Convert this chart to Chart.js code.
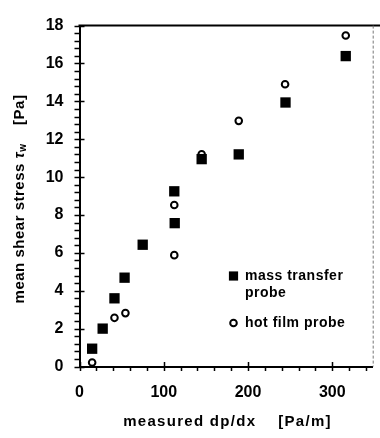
<!DOCTYPE html>
<html>
<head>
<meta charset="utf-8">
<style>
    html, body { margin: 0; padding: 0; background: #fff; }
    #chart { display: block; }
</style>
<script src="https://cdn.jsdelivr.net/npm/chart.js@4.4.0/dist/chart.umd.min.js"></script>
</head>
<body>
<canvas id="chart" width="380" height="438"></canvas>
<script>
// mass transfer probe readings
const massX = [15, 27.5, 41.5, 53.5, 75, 112.5, 113, 145, 189, 244.5, 316];
const massY = [0.94, 2.0, 3.6, 4.69, 6.43, 9.25, 7.57, 10.95, 11.2, 13.94, 16.39];

// hot film probe readings
const filmX = [15, 41.5, 54.5, 112.5, 112.5, 145, 189, 244, 316];
const filmY = [0.21, 2.57, 2.82, 5.88, 8.53, 11.2, 12.97, 14.9, 17.48];

const xTicks = [0, 100, 200, 300];
const yTicks = [0, 2, 4, 6, 8, 10, 12, 14, 16, 18];

const FONT = "'Liberation Sans', Arial, sans-serif";

const toPoints = (xs, ys) => xs.map((x, i) => ({ x, y: ys[i] }));

// minor/major tick marks, top and right frame lines
const frameTicks = {
    id: "frameTicks",
    afterDraw(chart) {
        const { ctx, chartArea: area, scales } = chart;
        const xs = scales.x;
        const ys = scales.y;
        ctx.save();
        ctx.strokeStyle = "#000";
        ctx.lineWidth = 1.5;
        ctx.beginPath();
        for (let v = 0; v <= xs.max; v += 20) {
            const px = Math.round(xs.getPixelForValue(v)) + 0.5;
            const major = v % 100 === 0;
            ctx.moveTo(px, major ? area.bottom - 4.5 : area.bottom);
            ctx.lineTo(px, area.bottom + 4.5);
        }
        for (let i = 0; i <= 45; i++) {
            const py = Math.round(ys.getPixelForValue(i * 0.4)) + 0.5;
            const major = i % 5 === 0;
            ctx.moveTo(area.left - 5, py);
            ctx.lineTo(major ? area.left + 5 : area.left, py);
        }
        ctx.stroke();

        ctx.lineWidth = 2;
        ctx.beginPath();
        ctx.moveTo(area.left - 1, area.top);
        ctx.lineTo(380, area.top);
        ctx.stroke();

        ctx.strokeStyle = "#777";
        ctx.lineWidth = 1;
        ctx.setLineDash([3, 2]);
        ctx.beginPath();
        ctx.moveTo(area.right + 0.5, area.top);
        ctx.lineTo(area.right + 0.5, area.bottom);
        ctx.stroke();
        ctx.restore();
    },
};

// axis titles (with the tau subscript) and the in-plot legend
const labels = {
    id: "labels",
    afterDraw(chart) {
        const { ctx } = chart;
        ctx.save();
        ctx.fillStyle = "#000";
        ctx.textBaseline = "middle";
        ctx.textAlign = "left";

        // x title
        ctx.font = `bold 15px ${FONT}`;
        ctx.letterSpacing = "1.3px";
        const xTitle = "measured dp/dx    [Pa/m]";
        const xw = ctx.measureText(xTitle).width;
        ctx.fillText(xTitle, 227.5 - xw / 2, 422);

        // y title, rotated, tau with subscript w
        ctx.translate(20, 199);
        ctx.rotate(-Math.PI / 2);
        ctx.letterSpacing = "0.5px";
        const parts = [
            { text: "mean shear stress ", font: `bold 15px ${FONT}`, dy: 0 },
            { text: "\u03C4", font: `italic bold 15px ${FONT}`, dy: 0 },
            { text: "w", font: `bold 10px ${FONT}`, dy: 3 },
            { text: "    [Pa]", font: `bold 15px ${FONT}`, dy: 0 },
        ];
        let total = 0;
        parts.forEach((p) => {
            ctx.font = p.font;
            p.w = ctx.measureText(p.text).width;
            total += p.w;
        });
        let cx = -total / 2;
        parts.forEach((p) => {
            ctx.font = p.font;
            ctx.fillText(p.text, cx, p.dy);
            cx += p.w;
        });
        ctx.setTransform(1, 0, 0, 1, 0, 0);

        // legend
        const sets = chart.data.datasets;
        const entries = [
            { ds: sets[0], lines: ["mass transfer", "probe"], y: 276 },
            { ds: sets[1], lines: ["hot film probe"], y: 323 },
        ];
        ctx.font = `bold 14px ${FONT}`;
        ctx.letterSpacing = "0.5px";
        entries.forEach((e) => {
            ctx.fillStyle = e.ds.backgroundColor;
            ctx.strokeStyle = e.ds.borderColor;
            ctx.lineWidth = e.ds.borderWidth;
            Chart.helpers.drawPoint(ctx, {
                pointStyle: e.ds.pointStyle,
                radius: e.ds.pointStyle === "rect" ? 6.5 : 3.3,
                borderWidth: e.ds.borderWidth,
                rotation: 0,
            }, 233.5, e.y);
            ctx.fillStyle = "#000";
            e.lines.forEach((line, i) => {
                ctx.fillText(line, 245, e.y + i * 17);
            });
        });
        ctx.restore();
    },
};

new Chart(document.getElementById("chart"), {
    type: "scatter",
    data: {
        datasets: [
            {
                label: "mass transfer probe",
                data: toPoints(massX, massY),
                pointStyle: "rect",
                pointRadius: 7.3,
                backgroundColor: "#000",
                borderColor: "#000",
                borderWidth: 0,
                clip: false,
            },
            {
                label: "hot film probe",
                data: toPoints(filmX, filmY),
                pointStyle: "circle",
                pointRadius: 3.3,
                backgroundColor: "#fff",
                borderColor: "#000",
                borderWidth: 2,
                clip: false,
            },
        ],
    },
    options: {
        responsive: false,
        animation: false,
        devicePixelRatio: 1,
        layout: { padding: { top: 10.5, right: 1.7, left: 0, bottom: 0 } },
        plugins: {
            legend: { display: false },
            tooltip: { enabled: false },
        },
        scales: {
            x: {
                type: "linear",
                min: 0,
                max: 348,
                afterFit: (scale) => { scale.height = 71.5; },
                afterBuildTicks: (scale) => { scale.ticks = xTicks.map((v) => ({ value: v })); },
                grid: { display: false, drawTicks: false },
                border: { display: true, color: "#000", width: 2 },
                ticks: {
                    color: "#000",
                    padding: 16.5,
                    font: { family: FONT, size: 16, weight: "bold" },
                },
            },
            y: {
                type: "linear",
                min: 0,
                max: 18,
                afterFit: (scale) => { scale.width = 79.5; },
                afterBuildTicks: (scale) => { scale.ticks = yTicks.map((v) => ({ value: v })); },
                grid: { display: false, drawTicks: false },
                border: { display: true, color: "#000", width: 2 },
                ticks: {
                    color: "#000",
                    padding: 16,
                    font: { family: FONT, size: 16, weight: "bold" },
                },
            },
        },
    },
    plugins: [frameTicks, labels],
});
</script>
</body>
</html>
